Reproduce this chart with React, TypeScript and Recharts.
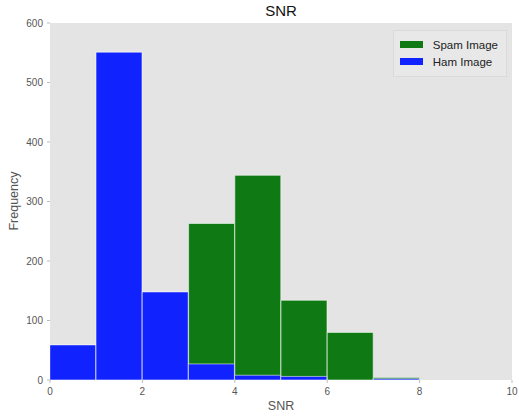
import { Bar, BarChart, XAxis, YAxis, Legend } from 'recharts';

const binCenters = [0.5, 1.5, 2.5, 3.5, 4.5, 5.5, 6.5, 7.5, 8.5, 9.5];
const spamCounts = [0, 0, 0, 263, 344, 134, 80, 4, 0, 0];
const hamCounts = [59, 551, 148, 27, 8, 6, 0, 2, 0, 0];
const xTicks = [0, 2, 4, 6, 8, 10];
const yTicks = [0, 100, 200, 300, 400, 500, 600];
const legendOrder = ['Spam Image', 'Ham Image'];

const data = binCenters.map((x, i) => ({ x, spam: spamCounts[i], ham: hamCounts[i] }));

const tickStyle = { fill: '#555', fontSize: 10 };

const LegendBox = ({ payload }: any) => {
  const items = [...(payload || [])].sort(
    (a: any, b: any) => legendOrder.indexOf(a.value) - legendOrder.indexOf(b.value)
  );
  return (
    <div
      style={{
        background: '#e8e8e8',
        border: '1px solid #dadada',
        padding: '5px 8px 6px 6px',
        fontFamily: 'Liberation Sans, Arial, sans-serif',
        fontSize: 11.5,
        color: '#222',
      }}
    >
      {items.map((p: any) => (
        <div key={p.value} style={{ display: 'flex', alignItems: 'center', height: 17 }}>
          <span style={{ display: 'inline-block', width: 23, height: 7, background: p.color, marginRight: 10 }} />
          {p.value}
        </div>
      ))}
    </div>
  );
};

export default function App() {
  return (
    <div style={{ position: 'absolute', left: 0, top: 0, width: 519, height: 418, background: '#fff', fontFamily: 'Liberation Sans, Arial, sans-serif' }}>
      <div style={{ position: 'absolute', top: 2, left: 50, width: 462, textAlign: 'center', fontSize: 15, color: '#111' }}>SNR</div>
      <div style={{ position: 'absolute', top: 399, left: 50, width: 462, textAlign: 'center', fontSize: 12.5, color: '#555' }}>SNR</div>
      <div
        style={{
          position: 'absolute',
          left: 14,
          top: 201,
          transform: 'translate(-50%, -50%) rotate(-90deg)',
          fontSize: 12.5,
          color: '#555',
          whiteSpace: 'nowrap',
        }}
      >
        Frequency
      </div>
      <BarChart
        width={519}
        height={418}
        data={data}
        margin={{ top: 0, right: 7, left: 0, bottom: 0 }}
        barCategoryGap={0}
        barGap="-100%"
      >
        <rect x={50} y={23} width={462} height={357} fill="#e4e4e4" />
        <XAxis
          xAxisId="b"
          dataKey="x"
          type="number"
          domain={[0, 10]}
          allowDataOverflow
          ticks={xTicks}
          height={38}
          axisLine={false}
          tickLine={{ stroke: '#bbb' }}
          tickSize={3}
          tickMargin={5}
          tick={tickStyle}
          interval={0}
        />
        <XAxis
          xAxisId="t"
          orientation="top"
          dataKey="x"
          type="number"
          domain={[0, 10]}
          allowDataOverflow
          ticks={xTicks}
          height={23}
          axisLine={false}
          tickLine={{ stroke: '#bbb' }}
          tickSize={3}
          tick={false}
        />
        <YAxis
          domain={[0, 600]}
          ticks={yTicks}
          width={50}
          axisLine={false}
          tickLine={{ stroke: '#bbb' }}
          tickSize={3}
          tickMargin={4}
          tick={tickStyle}
          interval={0}
        />
        <Legend
          layout="vertical"
          verticalAlign="middle"
          align="center"
          content={<LegendBox />}
          wrapperStyle={{ top: 30, right: 12, left: 'auto', width: 'auto' }}
        />
        <Bar xAxisId="b" dataKey="spam" name="Spam Image" fill="#0f7a13" stroke="#ffffff" strokeOpacity={0.55} strokeWidth={1} isAnimationActive={false} />
        <Bar xAxisId="b" dataKey="ham" name="Ham Image" fill="#1023ff" stroke="#ffffff" strokeOpacity={0.55} strokeWidth={1} isAnimationActive={false} />
      </BarChart>
    </div>
  );
}
